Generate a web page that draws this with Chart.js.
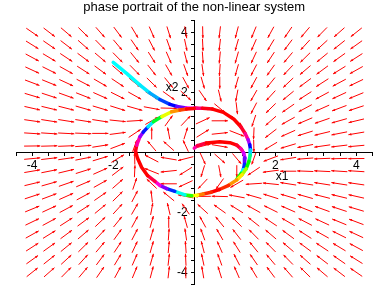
<!DOCTYPE html>
<html lang="en">
<head>
<meta charset="UTF-8">
<title>phase portrait</title>
<script src="https://cdn.jsdelivr.net/npm/chart.js"></script>
<style>
  html, body { margin: 0; padding: 0; background: #fff; }
  #wrap { width: 388px; height: 288px; }
</style>
</head>
<body>
<div id="wrap"><canvas id="chart" width="388" height="288"></canvas></div>
<script>
// grid of the direction field (x1 left to right, x2 top to bottom)
const fieldX1 = [-4, -3.58, -3.16, -2.74, -2.32, -1.89, -1.47, -1.05, -0.63, -0.21, 0.21, 0.63, 1.05, 1.47, 1.89, 2.32, 2.74, 3.16, 3.58, 4];
const fieldX2 = [4, 3.58, 3.16, 2.74, 2.32, 1.89, 1.47, 1.05, 0.63, 0.21, -0.21, -0.63, -1.05, -1.47, -1.89, -2.32, -2.74, -3.16, -3.58, -4];

// arrow direction in degrees (0 = towards +x1), one row per x2 value
const fieldAngle = [
  [-43, -46, -49, -53, -57, -61, -66, -72, -77, -83, -89, -95, -101, -107, -112, -117, -122, -126, -130, -133],
  [-40, -43, -46, -50, -54, -58, -63, -69, -75, -81, -88, -95, -102, -108, -114, -119, -124, -129, -133, -136],
  [-36, -39, -42, -45, -49, -54, -59, -65, -72, -79, -87, -94, -102, -109, -116, -122, -127, -132, -136, -139],
  [-32, -34, -37, -41, -45, -49, -54, -60, -67, -75, -84, -93, -102, -111, -118, -125, -131, -135, -140, -143],
  [-27, -29, -32, -35, -38, -42, -47, -53, -59, -68, -78, -90, -102, -112, -121, -128, -135, -139, -144, -147],
  [-22, -24, -26, -28, -31, -34, -37, -40, -44, -51, -63, -80, -98, -113, -124, -132, -139, -144, -148, -151],
  [-17, -18, -19, -21, -22, -23, -21, -14, -2, 1, -15, -48, -85, -111, -127, -137, -144, -149, -153, -156],
  [-11, -12, -12, -12, -12, -8, 5, 38, 62, 55, 32, 0, -52, -104, -130, -143, -150, -155, -159, -162],
  [-5, -5, -4, -3, 0, 10, 42, 90, 98, 77, 40, 8, -28, -92, -134, -149, -157, -162, -165, -167],
  [1, 2, 3, 6, 12, 27, 75, 122, 130, 109, 19, -13, -35, -89, -141, -158, -165, -169, -171, -173],
  [7, 9, 11, 15, 22, 39, 91, 145, 167, -161, -71, -50, -58, -105, -153, -168, -174, -177, -178, -179],
  [13, 15, 18, 23, 31, 46, 88, 152, -172, -140, -103, -82, -90, -138, -170, 180, 177, 176, 175, 175],
  [18, 21, 25, 30, 37, 50, 76, 128, 180, -148, -125, -118, -142, -175, 172, 168, 168, 168, 168, 169],
  [24, 27, 31, 36, 43, 53, 69, 95, 132, 165, -179, 178, 166, 159, 157, 158, 159, 161, 162, 163],
  [29, 32, 36, 41, 48, 56, 67, 82, 100, 117, 129, 136, 140, 143, 146, 149, 152, 154, 156, 158],
  [33, 36, 41, 45, 52, 59, 68, 78, 90, 102, 112, 121, 127, 133, 138, 142, 145, 148, 151, 153],
  [37, 40, 45, 49, 55, 62, 69, 78, 87, 96, 105, 113, 120, 126, 131, 135, 139, 143, 146, 148],
  [41, 44, 48, 53, 58, 64, 71, 78, 86, 93, 101, 108, 115, 121, 126, 131, 135, 138, 141, 144],
  [44, 47, 51, 56, 61, 66, 72, 78, 85, 92, 99, 105, 111, 117, 122, 126, 130, 134, 137, 140],
  [47, 50, 54, 58, 63, 68, 73, 79, 85, 91, 97, 103, 108, 114, 119, 123, 127, 131, 134, 137]
];

// trajectory starting at (-2, 3)
const trajAx1 = [-2.0, -1.67, -1.34, -1.1, -0.85, -0.6, -0.43, -0.2, 0.0, 0.2, 0.45, 0.72, 0.98, 1.15, 1.26, 1.33, 1.37, 1.39, 1.38, 1.35, 1.28, 1.18, 1.05, 0.85, 0.62, 0.42, 0.22, 0.08, -0.06, -0.23, -0.48, -0.68, -0.85, -0.97, -1.15, -1.3, -1.4, -1.45, -1.42, -1.34, -1.26, -1.14, -1.01, -0.8, -0.56, -0.35, -0.19, 0.0];
const trajAx2 = [3.0, 2.63, 2.24, 1.98, 1.76, 1.6, 1.53, 1.48, 1.47, 1.47, 1.44, 1.33, 1.1, 0.85, 0.62, 0.42, 0.25, 0.08, -0.1, -0.3, -0.55, -0.75, -0.92, -1.1, -1.24, -1.33, -1.39, -1.43, -1.45, -1.42, -1.3, -1.21, -1.1, -0.97, -0.78, -0.5, -0.2, 0.03, 0.24, 0.52, 0.67, 0.85, 1.02, 1.19, 1.35, 1.41, 1.44, 1.46];
// trajectory starting near the origin
const trajBx1 = [0.0, 0.08, 0.3, 0.63, 0.88, 1.05, 1.15, 1.22, 1.25, 1.24, 1.21, 1.16, 1.05];
const trajBx2 = [0.14, 0.22, 0.31, 0.35, 0.32, 0.24, 0.12, -0.02, -0.19, -0.4, -0.58, -0.7, -0.9];

// line colour along each trajectory (hue, degrees)
const trajAHue = [180, 180, 185, 200, 225, 240, 265, 300, 330, 355, 0, 0, 0, 350, 325, 280, 240, 190, 150, 120, 80, 55, 35, 10, 0, 10, 30, 60, 110, 175, 230, 270, 310, 345, 0, 0, 0, 355, 320, 275, 235, 185, 130, 65, 35, 15, 0, 345];
const trajBHue = [320, 345, 0, 0, 0, 350, 320, 290, 265, 230, 180, 120, 50];

const FONT = 'Liberation Sans, Arial, Helvetica, sans-serif';

function pts(xs, ys) {
    return xs.map((v, i) => ({ x: v, y: ys[i] }));
}

function trajectory(xs, ys, hues) {
    return {
        data: pts(xs, ys),
        showLine: true,
        pointRadius: 0,
        borderWidth: 3.5,
        borderCapStyle: 'round',
        borderJoinStyle: 'round',
        segment: {
            borderColor: c => 'hsl(' + hues[c.p0DataIndex] + ',100%,50%)'
        }
    };
}

// red direction arrows, centred on the grid points
const fieldArrows = {
    id: 'fieldArrows',
    beforeDatasetsDraw(chart) {
        const { ctx, scales: { x, y } } = chart;
        const half = 0.2;
        ctx.save();
        ctx.strokeStyle = '#ff0000';
        ctx.fillStyle = '#ff0000';
        ctx.lineWidth = 1;
        fieldX2.forEach((v2, r) => {
            fieldX1.forEach((v1, c) => {
                const a = fieldAngle[r][c] * Math.PI / 180;
                const px0 = x.getPixelForValue(v1 - half * Math.cos(a));
                const py0 = y.getPixelForValue(v2 - half * Math.sin(a));
                const px1 = x.getPixelForValue(v1 + half * Math.cos(a));
                const py1 = y.getPixelForValue(v2 + half * Math.sin(a));
                ctx.beginPath();
                ctx.moveTo(px0, py0);
                ctx.lineTo(px1, py1);
                ctx.stroke();
                const t = Math.atan2(py1 - py0, px1 - px0);
                const bx = px1 - 3 * Math.cos(t), by = py1 - 3 * Math.sin(t);
                ctx.beginPath();
                ctx.moveTo(px1, py1);
                ctx.lineTo(bx + 1.2 * Math.sin(t), by - 1.2 * Math.cos(t));
                ctx.lineTo(bx - 1.2 * Math.sin(t), by + 1.2 * Math.cos(t));
                ctx.closePath();
                ctx.fill();
            });
        });
        ctx.restore();
    }
};

// axis names next to the axes, as Maple places them
const axisNames = {
    id: 'axisNames',
    afterDraw(chart) {
        const { ctx, scales: { x, y } } = chart;
        ctx.save();
        ctx.fillStyle = '#000';
        ctx.font = '12px ' + FONT;
        ctx.textAlign = 'center';
        ctx.textBaseline = 'middle';
        ctx.fillText('x1', x.getPixelForValue(2.17), y.getPixelForValue(-0.82));
        ctx.fillText('x2', x.getPixelForValue(-0.55), y.getPixelForValue(2.16));
        ctx.restore();
    }
};

function evenLabel(v) {
    const r = Math.round(v);
    if (Math.abs(v - r) < 1e-6 && r !== 0 && r % 2 === 0) return String(r);
    return '';
}

function axis(pos, labels) {
    return {
        type: 'linear',
        min: -4.4,
        max: 4.4,
        position: pos,
        ticks: {
            stepSize: 0.4,
            autoSkip: false,
            maxRotation: 0,
            color: '#000',
            font: { family: FONT, size: 12 },
            callback: labels
        },
        grid: {
            drawOnChartArea: false,
            drawTicks: true,
            tickLength: 3,
            color: '#000'
        },
        border: { display: true, color: '#000', width: 1 }
    };
}

const xAxis = axis({ y: 0 }, evenLabel);
xAxis.afterFit = s => { s.paddingLeft = 0; s.paddingRight = 0; };
// labels of a centred y axis end on the axis line, so keep a small gap after them
const yAxis = axis({ x: 0 }, v => { const s = evenLabel(v); return s ? s + '  ' : ''; });
yAxis.afterFit = s => { s.paddingTop = 0; s.paddingBottom = 0; };

new Chart(document.getElementById('chart'), {
    type: 'scatter',
    data: {
        datasets: [
            trajectory(trajAx1, trajAx2, trajAHue),
            trajectory(trajBx1, trajBx2, trajBHue)
        ]
    },
    options: {
        responsive: false,
        animation: false,
        layout: { padding: { left: 16, right: 15.5, top: 0, bottom: 3.7 } },
        plugins: {
            legend: { display: false },
            tooltip: { enabled: false },
            title: {
                display: true,
                text: 'phase portrait of the non-linear system',
                color: '#000',
                font: { family: FONT, size: 13, weight: 'normal' },
                padding: { top: 0, bottom: 4.7 }
            }
        },
        scales: { x: xAxis, y: yAxis }
    },
    plugins: [fieldArrows, axisNames]
});
</script>
</body>
</html>
